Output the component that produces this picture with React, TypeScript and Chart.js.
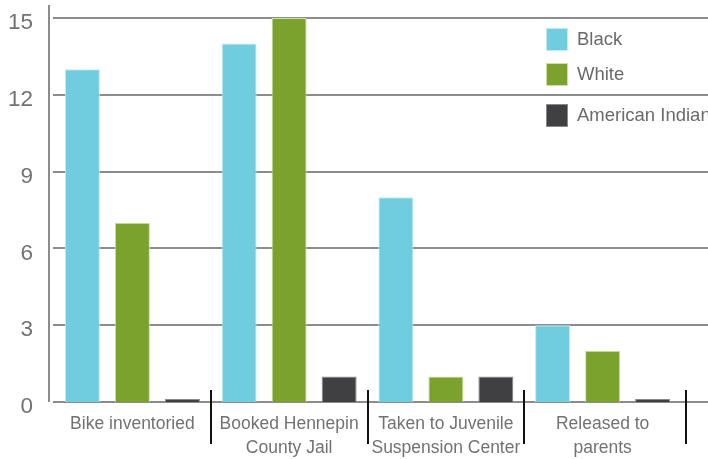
import React, { useEffect, useRef } from "react";
import { Chart, registerables } from "chart.js";

Chart.register(...registerables);

// ---- data ----
const categories: (string | string[])[] = [
  "Bike inventoried",
  ["Booked Hennepin", "County Jail"],
  ["Taken to Juvenile", "Suspension Center"],
  ["Released to", "parents"],
];
const seriesNames = ["Black", "White", "American Indian"];
const blackValues = [13, 14, 8, 3];
const whiteValues = [7, 15, 1, 2];
const americanIndianValues = [0.12, 1, 1, 0.12];
const yTicks = [0, 3, 6, 9, 12, 15];

// ---- styles ----
const fillColors = ["#70CDE0", "#7CA22E", "#404042"];
const edgeColors = ["#c2ebf3", "#cde0a6", "#8a8a8c"];
const FONT = "'Liberation Sans', Arial, sans-serif";
const TEXT = "#727272";
const GRID = "#8c8c8c";
const legendRowsY = [39, 74, 115];

const decorPlugin = {
  id: "decor",
  beforeDatasetsDraw(chart: any) {
    const { ctx, chartArea, scales } = chart;
    const y = scales.y;
    ctx.save();
    ctx.strokeStyle = GRID;
    ctx.lineWidth = 2;
    yTicks.forEach((v) => {
      const py = Math.round(y.getPixelForValue(v));
      ctx.beginPath();
      ctx.moveTo(chartArea.left - 1, py);
      ctx.lineTo(chart.width, py);
      ctx.stroke();
    });
    ctx.beginPath();
    ctx.moveTo(chartArea.left - 5, 5);
    ctx.lineTo(chartArea.left - 5, Math.round(y.getPixelForValue(0)));
    ctx.stroke();
    ctx.restore();
  },
  afterDraw(chart: any) {
    const { ctx, chartArea, scales } = chart;
    const x = scales.x;
    ctx.save();
    // category separators
    ctx.strokeStyle = "#111111";
    ctx.lineWidth = 2;
    const n = categories.length;
    for (let i = 1; i <= n; i++) {
      const px =
        i < n
          ? (x.getPixelForTick(i - 1) + x.getPixelForTick(i)) / 2
          : chartArea.right + 5;
      ctx.beginPath();
      ctx.moveTo(Math.round(px), chartArea.bottom - 12);
      ctx.lineTo(Math.round(px), chartArea.bottom + 42);
      ctx.stroke();
    }
    // legend
    ctx.font = `18.5px ${FONT}`;
    ctx.textBaseline = "middle";
    ctx.textAlign = "left";
    chart.data.datasets.forEach((ds: any, i: number) => {
      const cy = legendRowsY[i];
      ctx.fillStyle = ds.backgroundColor;
      ctx.fillRect(546, cy - 11, 22, 23);
      ctx.strokeStyle = ds.borderColor;
      ctx.lineWidth = 1;
      ctx.strokeRect(546.5, cy - 10.5, 21, 22);
      ctx.fillStyle = "#6a6a6a";
      ctx.fillText(ds.label, 577, cy + 1);
    });
    ctx.restore();
  },
};

export default function App() {
  const ref = useRef<HTMLCanvasElement | null>(null);
  useEffect(() => {
    if (!ref.current) return;
    const values = [blackValues, whiteValues, americanIndianValues];
    const chart = new Chart(ref.current, {
      type: "bar",
      data: {
        labels: categories as any,
        datasets: seriesNames.map((name, i) => ({
          label: name,
          data: values[i],
          backgroundColor: fillColors[i],
          borderColor: edgeColors[i],
          borderWidth: 1,
          categoryPercentage: 0.957,
          barPercentage: 0.7,
        })),
      },
      options: {
        responsive: false,
        animation: false,
        layout: { padding: { left: 0, right: 27, top: 18, bottom: 0 } },
        plugins: { legend: { display: false }, tooltip: { enabled: false } },
        scales: {
          x: {
            grid: { display: false, drawTicks: false, tickLength: 0 },
            border: { display: false },
            ticks: {
              color: TEXT,
              font: { family: FONT, size: 17.5, lineHeight: 1.37 },
              padding: 10,
              maxRotation: 0,
              autoSkip: false,
            },
            afterFit: (s: any) => {
              s.height = 57;
              s.paddingLeft = 0;
              s.paddingRight = 0;
            },
          },
          y: {
            min: 0,
            max: 15,
            grid: { display: false, drawTicks: false, tickLength: 0 },
            border: { display: false },
            ticks: {
              stepSize: 3,
              color: TEXT,
              font: { family: FONT, size: 22.5 },
              padding: 21,
              labelOffset: 5,
            },
            afterFit: (s: any) => {
              s.width = 54;
              s.paddingTop = 0;
              s.paddingBottom = 0;
            },
          },
        },
      },
      plugins: [decorPlugin],
    });
    return () => chart.destroy();
  }, []);
  return (
    <div style={{ position: "fixed", left: 0, top: 0, width: 708, height: 459, background: "#fff" }}>
      <canvas ref={ref} width={708} height={459} />
    </div>
  );
}
